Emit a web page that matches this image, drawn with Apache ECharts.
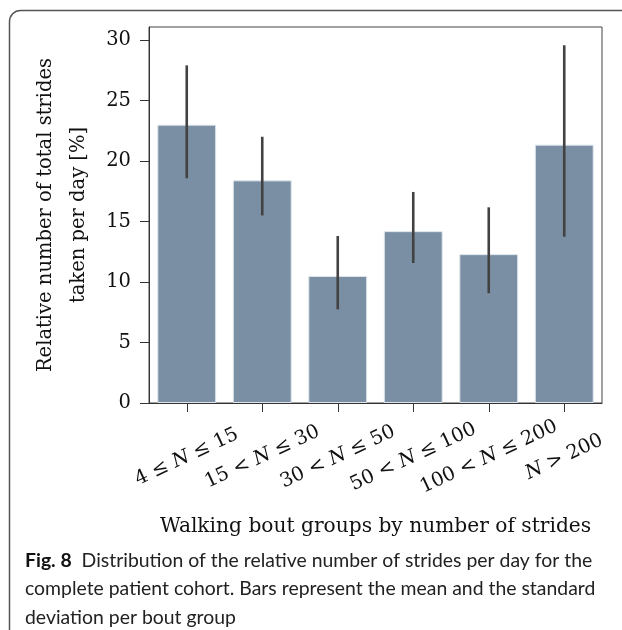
<!DOCTYPE html>
<html>
<head>
<meta charset="utf-8">
<script src="https://cdn.jsdelivr.net/npm/echarts@6/dist/echarts.min.js"></script>
<style>
html,body{margin:0;padding:0;background:#fff;}
#chart{width:622px;height:630px;}
</style>
</head>
<body>
<div id="chart"></div>
<script>
const categories = ['4 ≤ N ≤ 15', '15 < N ≤ 30', '30 < N ≤ 50', '50 < N ≤ 100', '100 < N ≤ 200', 'N > 200'];
const means = [23.0, 18.4, 10.5, 14.2, 12.3, 21.35];
const errLow = [18.57, 15.5, 7.74, 11.57, 9.07, 13.74];
const errHigh = [27.9, 22.0, 13.8, 17.44, 16.17, 29.56];
const yTicks = [0, 5, 10, 15, 20, 25, 30];
const yMax = 31.07;
const yTitle = 'Relative number of total strides\ntaken per day [%]';
const xTitle = 'Walking bout groups by number of strides';
const captionLines = [
  '{b|Fig. 8}  Distribution of the relative number of strides per day for the',
  'complete patient cohort. Bars represent the mean and the standard',
  'deviation per bout group'
];

const serif = 'DejaVu Serif';
const chart = echarts.init(document.getElementById('chart'), null, {renderer: 'canvas'});

const errData = categories.map((c, i) => [i, errLow[i], errHigh[i]]);

chart.setOption({
  animation: false,
  backgroundColor: '#ffffff',
  grid: {
    left: 149, right: 20, top: 27, bottom: 227,
    show: true, borderColor: '#444', borderWidth: 1, backgroundColor: 'transparent'
  },
  xAxis: {
    type: 'category',
    data: categories,
    axisLine: {lineStyle: {color: '#333', width: 1}},
    axisTick: {show: true, alignWithLabel: true, length: 9, lineStyle: {color: '#333'}},
    axisLabel: {
      rotate: 25, align: 'center', verticalAlign: 'middle', margin: 54,
      fontFamily: serif, fontSize: 19.5, color: '#111',
      formatter: v => v.replace('N', '{i|N}'),
      rich: {i: {fontFamily: serif, fontStyle: 'italic', fontSize: 19.5, color: '#111'}}
    },
    name: xTitle,
    nameLocation: 'middle',
    nameGap: 114,
    nameTextStyle: {fontFamily: serif, fontSize: 20.2, color: '#111'}
  },
  yAxis: {
    type: 'value',
    min: 0, max: yMax,
    splitLine: {show: false},
    axisLine: {show: true, lineStyle: {color: '#333', width: 1}},
    axisTick: {show: true, length: 9, lineStyle: {color: '#333'}, customValues: yTicks},
    axisLabel: {fontFamily: serif, fontSize: 19.5, color: '#111', margin: 18, customValues: yTicks},
    name: yTitle,
    nameLocation: 'middle',
    nameRotate: 90,
    nameGap: 49,
    nameTextStyle: {fontFamily: serif, fontSize: 19.5, color: '#111', lineHeight: 33, align: 'center'}
  },
  series: [
    {
      type: 'bar',
      data: means,
      barWidth: '78%',
      itemStyle: {color: '#7a8fa3', borderColor: '#dfe6ec', borderWidth: 1}
    },
    {
      type: 'custom',
      data: errData,
      z: 5,
      renderItem: function (params, api) {
        const p1 = api.coord([api.value(0), api.value(1)]);
        const p2 = api.coord([api.value(0), api.value(2)]);
        return {
          type: 'line',
          shape: {x1: p1[0], y1: p1[1], x2: p2[0], y2: p2[1]},
          style: {stroke: '#424242', lineWidth: 2.6}
        };
      }
    }
  ],
  graphic: [
    {
      type: 'rect', silent: true,
      shape: {x: 9.5, y: 10.5, width: 700, height: 700, r: 11},
      style: {fill: 'none', stroke: '#555', lineWidth: 1.5}
    },
    ...captionLines.map((t, i) => ({
      type: 'text', silent: true,
      left: 25, top: 551 + i * 28.5,
      style: {
        text: t,
        fontFamily: 'Lato', fontSize: 19.4, fill: '#222',
        rich: {b: {fontFamily: 'Lato', fontWeight: 'bold', fontSize: 19.4, fill: '#111'}}
      }
    }))
  ]
});
</script>
</body>
</html>
